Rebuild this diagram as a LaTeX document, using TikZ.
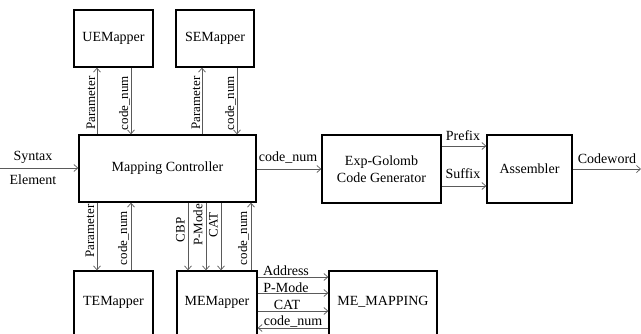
\documentclass[tikz,border=0pt]{standalone}
\usepackage{fontspec}
\setmainfont{Liberation Serif}
\usetikzlibrary{arrows.meta}
\definecolor{arrgray}{HTML}{5A5A5A}
\begin{document}
\begin{tikzpicture}[x=1pt,y=-1pt,
  box/.style={draw=black,line width=1.3pt,inner sep=0pt,align=center,font=\fontsize{14}{17}\selectfont},
  arr/.style={draw=arrgray,line width=0.7pt,-{Straight Barb[length=4pt,width=7pt]}},
  lab/.style={font=\fontsize{14}{16}\selectfont,inner sep=0pt},
  vlab/.style={font=\fontsize{13}{15}\selectfont,inner sep=0pt,rotate=90}]
\useasboundingbox (0,0) rectangle (641,333);
% boxes
\node[box,minimum width=79pt,minimum height=57pt] (UE) at (113.5,38.5) {UEMapper};
\node[box,minimum width=78pt,minimum height=57pt] (SE) at (215,38.5) {SEMapper};
\node[box,minimum width=177pt,minimum height=67pt] (MC) at (167.5,168.5) {Mapping Controller};
\node[box,minimum width=119pt,minimum height=68pt] (EG) at (381.5,169) {Exp-Golomb\\Code Generator};
\node[box,minimum width=85pt,minimum height=68pt] (AS) at (529.5,169) {Assembler};
\node[box,minimum width=79pt,minimum height=64pt] (TE) at (113.5,303) {};
\node[box,minimum width=80pt,minimum height=64pt] (ME) at (217,303) {};
\node[box,minimum width=108pt,minimum height=64pt] (MM) at (383,303) {};
\node[lab,font=\fontsize{14}{17}\selectfont] (TEt) at (113.5,302) {TEMapper};
\node[lab,font=\fontsize{14}{17}\selectfont] (MEt) at (217,302) {MEMapper};
\node[lab,font=\fontsize{14}{17}\selectfont] (MMt) at (383,302) {ME\_MAPPING};
% column coordinates
\coordinate (c1) at (97,0);
\coordinate (c2) at (131,0);
\coordinate (c3) at (202,0);
\coordinate (c4) at (237,0);
\coordinate (c5) at (188,0);
\coordinate (c6) at (206,0);
\coordinate (c7) at (221,0);
\coordinate (c8) at (251,0);
\coordinate (r1) at (0,277);
\coordinate (r2) at (0,293);
\coordinate (r3) at (0,311);
\coordinate (r4) at (0,328);
\coordinate (rp) at (0,146);
\coordinate (rs) at (0,186);
\coordinate (rm) at (0,169);
\coordinate (inS) at (0,168);
\coordinate (outC) at (641,169);
% top mappers
\draw[arr] (MC.north -| c1) -- (UE.south -| c1);
\draw[arr] (UE.south -| c2) -- (MC.north -| c2);
\draw[arr] (MC.north -| c3) -- (SE.south -| c3);
\draw[arr] (SE.south -| c4) -- (MC.north -| c4);
\node[vlab] (l1) at (91,103) {Parameter};
\node[vlab] (l2) at (124.5,103) {code\_num};
\node[vlab] (l3) at (196,103) {Parameter};
\node[vlab] (l4) at (230.5,103) {code\_num};
% bottom mappers
\draw[arr] (MC.south -| c1) -- (TE.north -| c1);
\draw[arr] (TE.north -| c2) -- (MC.south -| c2);
\draw[arr] (MC.south -| c5) -- (ME.north -| c5);
\draw[arr] (MC.south -| c6) -- (ME.north -| c6);
\draw[arr] (MC.south -| c7) -- (ME.north -| c7);
\draw[arr] (ME.north -| c8) -- (MC.south -| c8);
\node[vlab] (l5) at (90,231) {Parameter};
\node[vlab] (l6) at (123.5,238) {code\_num};
\node[vlab] (l7) at (180.5,230) {CBP};
\node[vlab] (l8) at (198,225) {P-Mode};
\node[vlab] (l9) at (213.5,225) {CAT};
\node[vlab] (l10) at (243.5,238) {code\_num};
% ME to ME_MAPPING
\draw[arr] (ME.east |- r1) -- (MM.west |- r1);
\draw[arr] (ME.east |- r2) -- (MM.west |- r2);
\draw[arr] (ME.east |- r3) -- (MM.west |- r3);
\draw[arr] (MM.west |- r4) -- (ME.east |- r4);
\node[lab] (a1) at (286,271) {Address};
\node[lab] (a2) at (286,287.5) {P-Mode};
\node[lab] (a3) at (287,304.5) {CAT};
\node[lab] (a4) at (293,321.5) {code\_num};
% main chain
\draw[arr] (inS) -- (MC.west |- inS);
\node[lab] (sy) at (33,157) {Syntax};
\node[lab] (el) at (33,180) {Element};
\draw[arr] (MC.east |- rm) -- (EG.west |- rm);
\node[lab] (cn) at (288,158) {code\_num};
\draw[arr] (EG.east |- rp) -- (AS.west |- rp);
\draw[arr] (EG.east |- rs) -- (AS.west |- rs);
\node[lab] (pf) at (463,136) {Prefix};
\node[lab] (sf) at (463,174) {Suffix};
\draw[arr] (AS.east |- rm) -- (outC);
\node[lab] (cw) at (607,159) {Codeword};
\end{tikzpicture}
\end{document}
